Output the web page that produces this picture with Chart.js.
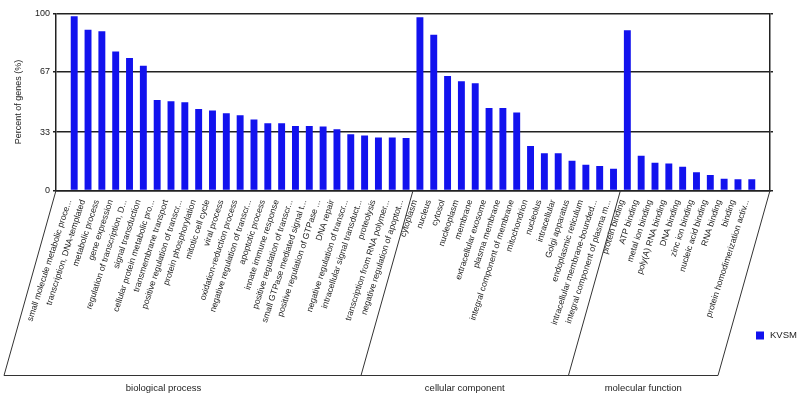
<!DOCTYPE html>
<html><head><meta charset="utf-8">
<script src="https://cdn.jsdelivr.net/npm/chart.js@4"></script>
<style>html,body{margin:0;padding:0;background:#fff}</style>
</head><body>
<canvas id="c" width="797" height="398"></canvas>
<script>
const categories = [
  "small molecule metabolic proce...",
  "transcription, DNA-templated",
  "metabolic process",
  "gene expression",
  "regulation of transcription, D...",
  "signal transduction",
  "cellular protein metabolic pro...",
  "transmembrane transport",
  "positive regulation of transcr...",
  "protein phosphorylation",
  "mitotic cell cycle",
  "viral process",
  "oxidation-reduction process",
  "negative regulation of transcr...",
  "apoptotic process",
  "innate immune response",
  "positive regulation of transcr...",
  "small GTPase mediated signal t...",
  "positive regulation of GTPase ...",
  "DNA repair",
  "negative regulation of transcr...",
  "intracellular signal transduct...",
  "proteolysis",
  "transcription from RNA polymer...",
  "negative regulation of apoptot...",
  "cytoplasm",
  "nucleus",
  "cytosol",
  "nucleoplasm",
  "membrane",
  "extracellular exosome",
  "plasma membrane",
  "integral component of membrane",
  "mitochondrion",
  "nucleolus",
  "intracellular",
  "Golgi apparatus",
  "endoplasmic reticulum",
  "intracellular membrane-bounded...",
  "integral component of plasma m...",
  "protein binding",
  "ATP binding",
  "metal ion binding",
  "poly(A) RNA binding",
  "DNA binding",
  "zinc ion binding",
  "nucleic acid binding",
  "RNA binding",
  "binding",
  "protein homodimerization activ..."
];
const percents = [
  98.5, 90.8, 90.0, 78.6, 74.8, 70.5, 51.2, 50.4, 49.9, 46.1,
  45.2, 43.7, 42.5, 40.1, 38.0, 38.0, 36.5, 36.5, 36.2, 34.6,
  31.8, 31.1, 30.0, 30.0, 29.6,
  97.9, 88.0, 64.7, 61.7, 60.6, 46.6, 46.6, 44.0, 25.2, 21.0,
  21.0, 16.8, 14.5, 13.8, 12.3,
  90.6, 19.6, 15.7, 15.3, 13.4, 10.3, 8.7, 6.6, 6.3, 6.3
];
const groupNames = ["biological process", "cellular component", "molecular function"];
const groupSizes = [25, 15, 10];
const yTickValues = [0, 33, 67, 100];
const seriesName = "KVSM";

const FONT = "Liberation Sans";
const INK = "#222";
const BLUE = "#1212ee";

const groupPlugin = {
  id: "groups",
  afterDraw(chart, args, opts) {
    const { ctx, chartArea } = chart;
    const x = chart.scales.x;
    const top = chartArea.bottom;
    const bottom = opts.bottom;
    const shift = (bottom - top) * opts.slant;
    const edges = [chartArea.left];
    let acc = 0;
    groupSizes.forEach((n, i) => {
      acc += n;
      edges.push(i === groupSizes.length - 1 ? chartArea.right : x.getPixelForValue(acc - 0.5));
    });
    ctx.save();
    ctx.strokeStyle = opts.color;
    ctx.lineWidth = opts.lineWidth;
    ctx.beginPath();
    edges.forEach(e => { ctx.moveTo(e, top); ctx.lineTo(e - shift, bottom); });
    ctx.moveTo(edges[0] - shift, bottom);
    ctx.lineTo(edges[edges.length - 1] - shift, bottom);
    ctx.stroke();
    ctx.fillStyle = opts.textColor;
    ctx.font = opts.font;
    ctx.textAlign = "center";
    ctx.textBaseline = "middle";
    groupNames.forEach((g, i) => {
      const cx = (edges[i] + edges[i + 1]) / 2 - shift + (opts.labelShift[i] || 0);
      ctx.fillText(g, cx, opts.labelY);
    });
    // legend
    const ds = chart.data.datasets[0];
    ctx.fillStyle = ds.backgroundColor;
    ctx.fillRect(opts.legendX, opts.legendY - 4, 8, 8);
    ctx.fillStyle = opts.textColor;
    ctx.textAlign = "left";
    ctx.font = opts.legendFont;
    ctx.fillText(ds.label, opts.legendX + 14, opts.legendY);
    ctx.restore();
  }
};

const yTicksHook = s => { s.ticks = yTickValues.map(v => ({ value: v })); };

new Chart(document.getElementById("c"), {
  type: "bar",
  data: {
    datasets: [{
      label: seriesName,
      data: percents.map((v, i) => ({ x: i, y: v })),
      backgroundColor: BLUE,
      borderWidth: 0,
      barPercentage: 0.5,
      categoryPercentage: 1.0
    }]
  },
  options: {
    responsive: false,
    animation: false,
    devicePixelRatio: 1,
    layout: { padding: { top: 13.5, left: 0, right: 0, bottom: 0 } },
    scales: {
      x: {
        type: "linear",
        min: -0.8,
        max: 49.8,
        afterBuildTicks: s => { s.ticks = categories.map((_, i) => ({ value: i })); },
        afterFit: s => { s.height = 207.5; },
        grid: { display: false },
        border: { display: true, color: INK, width: 1.5 },
        ticks: {
          autoSkip: false,
          minRotation: 72,
          maxRotation: 72,
          padding: 0,
          labelOffset: -5,
          color: INK,
          font: { family: FONT, size: 8.6 },
          callback: v => categories[v]
        }
      },
      y: {
        position: "left",
        min: 0,
        max: 100,
        z: 1,
        afterBuildTicks: yTicksHook,
        afterFit: s => { s.width = 56; },
        grid: { color: INK, lineWidth: 1.5, tickLength: 3 },
        border: { display: true, color: INK, width: 1.5 },
        ticks: { color: INK, padding: 3, font: { family: FONT, size: 9 } },
        title: {
          display: true,
          text: "Percent of genes (%)",
          color: INK,
          font: { family: FONT, size: 9 },
          padding: { top: 13, bottom: 0 }
        }
      },
      y2: {
        position: "right",
        min: 0,
        max: 100,
        z: 1,
        afterBuildTicks: yTicksHook,
        afterFit: s => { s.width = 27; },
        grid: { drawOnChartArea: false, color: INK, lineWidth: 1.5, tickLength: 3 },
        border: { display: true, color: INK, width: 1.5 },
        ticks: { display: false }
      }
    },
    plugins: {
      legend: { display: false },
      tooltip: { enabled: false },
      groups: {
        bottom: 375.5,
        slant: 52 / 185,
        color: "#333",
        lineWidth: 1,
        textColor: INK,
        font: "9.5px " + FONT,
        labelY: 388,
        labelShift: [-19, 0, 0],
        legendX: 756,
        legendY: 335.5,
        legendFont: "9.5px " + FONT
      }
    }
  },
  plugins: [groupPlugin]
});
</script>
</body></html>
